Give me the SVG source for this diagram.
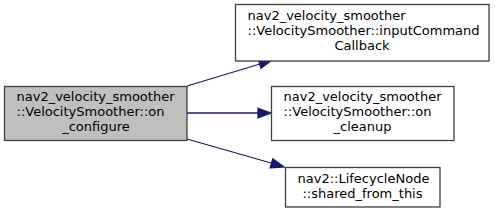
<svg xmlns="http://www.w3.org/2000/svg" width="495" height="213" viewBox="0 0 495 213">
<style>
.box{fill:#ffffff;stroke:#404040;stroke-width:1.3}
.focus{fill:#bfbfbf;stroke:#404040;stroke-width:1.3}
text{font-family:"DejaVu Sans",sans-serif;font-size:13px;fill:#000}
.e{fill:none;stroke:#191970;stroke-width:1.3}
.h{fill:#191970;stroke:#191970;stroke-width:1.3}
</style>
<rect width="495" height="213" fill="#ffffff"/>
<g id="edges">
<path class="e" d="M187,86 L260,64"/>
<polygon class="h" points="261,68.3 272,60 258.2,59.3"/>
<path class="e" d="M187,113 L258,113"/>
<polygon class="h" points="258,108.3 271,113 258,117.7"/>
<path class="e" d="M187,139 L271,163"/>
<polygon class="h" points="270.2,167.9 284,167 272.8,158.9"/>
</g>
<g id="node-on-configure">
<rect class="focus" x="4.5" y="86.5" width="182.5" height="54"/>
<text x="16.5" y="101">nav2_velocity_smoother</text>
<text x="16.5" y="116">::VelocitySmoother::on</text>
<text x="96" y="131" text-anchor="middle">_configure</text>
</g>
<g id="node-inputCommandCallback">
<rect class="box" x="235.5" y="4.5" width="253.5" height="56.5"/>
<text x="247.5" y="20">nav2_velocity_smoother</text>
<text x="247.5" y="35">::VelocitySmoother::inputCommand</text>
<text x="362" y="50" text-anchor="middle">Callback</text>
</g>
<g id="node-on-cleanup">
<rect class="box" x="271.5" y="86.5" width="182.5" height="54"/>
<text x="283.5" y="101">nav2_velocity_smoother</text>
<text x="283.5" y="116">::VelocitySmoother::on</text>
<text x="362.5" y="131" text-anchor="middle">_cleanup</text>
</g>
<g id="node-shared-from-this">
<rect class="box" x="285.5" y="167.5" width="154.5" height="39.5"/>
<text x="297.5" y="183">nav2::LifecycleNode</text>
<text x="362.5" y="198" text-anchor="middle">::shared_from_this</text>
</g>
</svg>
